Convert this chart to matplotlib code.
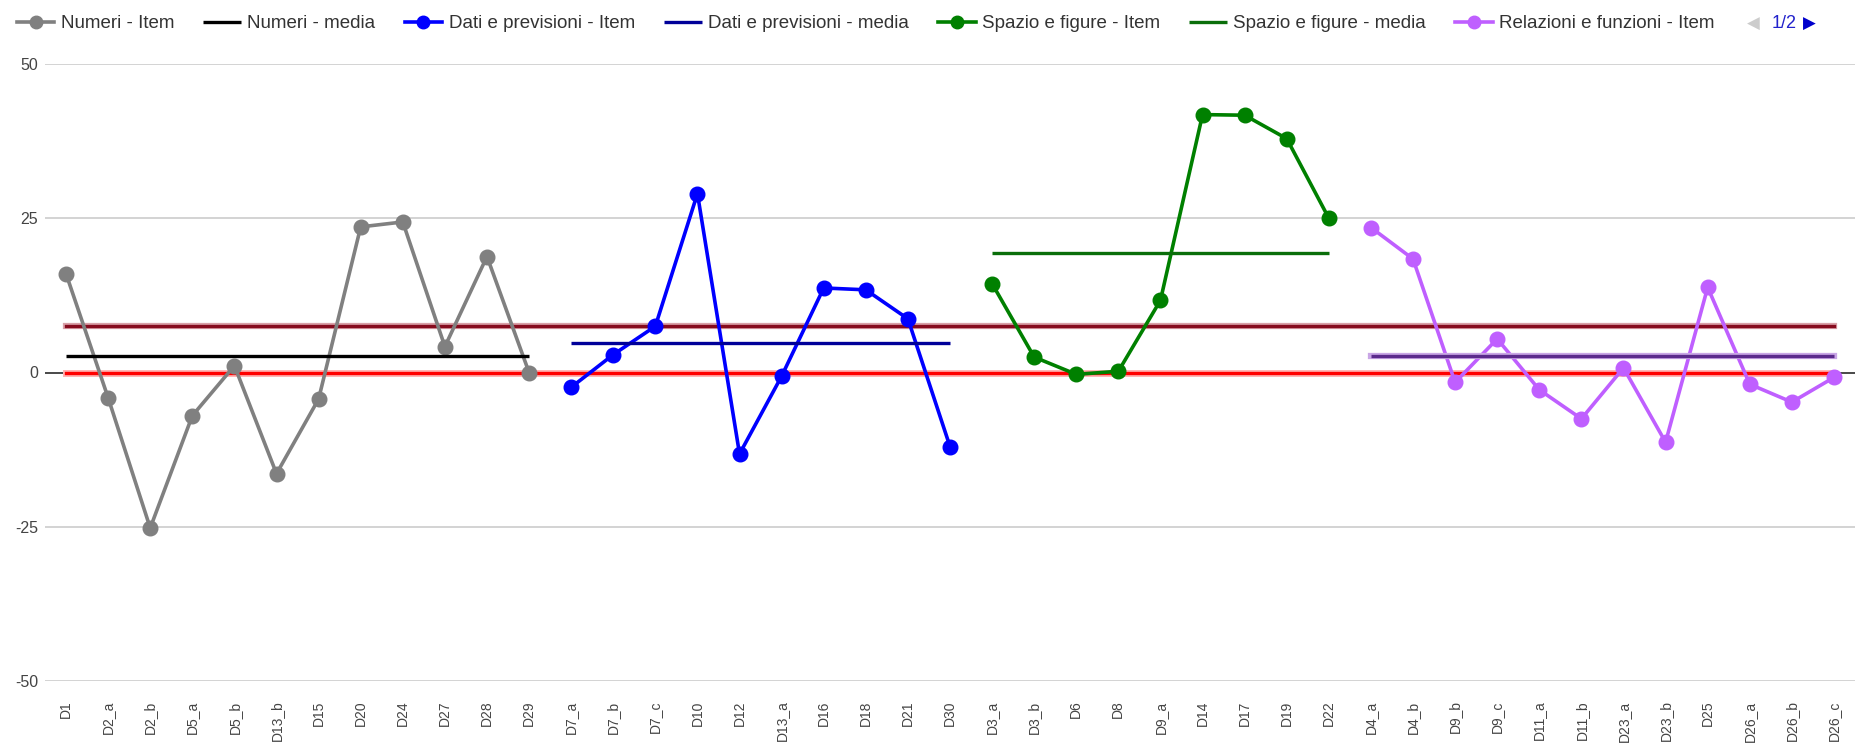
import matplotlib.pyplot as plt

plt.rcParams['font.family'] = ['Liberation Sans', 'DejaVu Sans']
plt.rcParams['axes.unicode_minus'] = False

# item labels per group
numeri_items = ['D1', 'D2_a', 'D2_b', 'D5_a', 'D5_b', 'D13_b', 'D15', 'D20', 'D24', 'D27', 'D28', 'D29']
dati_items = ['D7_a', 'D7_b', 'D7_c', 'D10', 'D12', 'D13_a', 'D16', 'D18', 'D21', 'D30']
spazio_items = ['D3_a', 'D3_b', 'D6', 'D8', 'D9_a', 'D14', 'D17', 'D19', 'D22']
relazioni_items = ['D4_a', 'D4_b', 'D9_b', 'D9_c', 'D11_a', 'D11_b', 'D23_a', 'D23_b', 'D25', 'D26_a', 'D26_b', 'D26_c']

# values
numeri_vals = [16.0, -4.1, -25.2, -7.0, 1.1, -16.4, -4.3, 23.6, 24.4, 4.2, 18.8, 0.0]
dati_vals = [-2.4, 2.9, 7.5, 29.0, -13.2, -0.6, 13.7, 13.4, 8.7, -12.0]
spazio_vals = [14.4, 2.5, -0.3, 0.2, 11.7, 41.8, 41.7, 37.9, 25.0]
relazioni_vals = [23.5, 18.4, -1.6, 5.45, -2.8, -7.5, 0.75, -11.3, 13.8, -1.9, -4.8, -0.8]

# group means and overall lines
numeri_media = 2.65
dati_media = 4.75
spazio_media = 19.4
relazioni_media = 2.7
totale_media = 7.5
zero_line = 0.0

all_items = numeri_items + dati_items + spazio_items + relazioni_items
pos = {name: i for i, name in enumerate(all_items)}


def xs(items):
    return [pos[n] for n in items]


def span(items):
    return [pos[items[0]], pos[items[-1]]]


fig = plt.figure(figsize=(18.56, 7.47), dpi=100)
ax = fig.add_axes([45 / 1856, 66 / 747, 1 - 46 / 1856, 617 / 747])

item_kw = dict(lw=2.6, marker='o', ms=10.5, zorder=3)
media_kw = dict(lw=2.4, zorder=4, solid_capstyle='butt')

# overall lines across all items
ax.plot(span(all_items), [zero_line] * 2, color='#ffb3b3', lw=5, zorder=2)
ax.plot(span(all_items), [zero_line] * 2, color='#ff0000', lw=2.4, zorder=2)
ax.plot(span(all_items), [totale_media] * 2, color='#d9a0a8', lw=4.5, zorder=2)
ax.plot(span(all_items), [totale_media] * 2, color='#860b1e', lw=2.4, zorder=2)

ax.plot(xs(numeri_items), numeri_vals, color='#808080', label='Numeri - Item', **item_kw)
ax.plot(span(numeri_items), [numeri_media] * 2, color='#000000',
        label='Numeri - media', **media_kw)
ax.plot(xs(dati_items), dati_vals, color='#0000ff', label='Dati e previsioni - Item', **item_kw)
ax.plot(span(dati_items), [dati_media] * 2, color='#000099',
        label='Dati e previsioni - media', **media_kw)
ax.plot(xs(spazio_items), spazio_vals, color='#008000', label='Spazio e figure - Item', **item_kw)
ax.plot(span(spazio_items), [spazio_media] * 2, color='#0a6e0a',
        label='Spazio e figure - media', **media_kw)
ax.plot(xs(relazioni_items), relazioni_vals, color='#bf5fff', label='Relazioni e funzioni - Item', **item_kw)
ax.plot(span(relazioni_items), [relazioni_media] * 2, color='#c9a6e6', lw=4.5, zorder=4)
ax.plot(span(relazioni_items), [relazioni_media] * 2, color='#5b2a8c', **media_kw)

ax.axhline(0, color='#333333', lw=1.2, zorder=1)

ax.set_xlim(-0.5, len(all_items) - 0.5)
ax.set_ylim(-50, 50)
ax.set_xticks(range(len(all_items)))
ax.set_xticklabels(all_items, rotation=90, va='top', ha='center')
ax.set_yticks([-50, -25, 0, 25, 50])
ax.grid(axis='y', color='#cccccc', lw=1.2)
ax.set_axisbelow(True)
for s in ax.spines.values():
    s.set_visible(False)
ax.tick_params(axis='y', length=0, pad=5, labelsize=11.5, labelcolor='#444444')
ax.tick_params(axis='x', length=0, pad=14, labelsize=10, labelcolor='#444444')

handles, labels = ax.get_legend_handles_labels()
leg = fig.legend(handles, labels, loc='center left', bbox_to_anchor=(0.005, 0.968), ncol=7,
                 frameon=False, fontsize=13.5, handlelength=2.0, handletextpad=0.35,
                 columnspacing=1.55, borderaxespad=0, labelcolor='#333333')
for h in leg.legend_handles:
    if h.get_marker() == 'o':
        h.set_markersize(9)

fig.text(0.9415, 0.968, '◀', color='#cccccc', fontsize=12, va='center', ha='left',
         family=['DejaVu Sans'])
fig.text(0.9545, 0.968, '1/2', color='#2222cc', fontsize=13, va='center', ha='left')
fig.text(0.9715, 0.968, '▶', color='#0000cc', fontsize=12, va='center', ha='left',
         family=['DejaVu Sans'])

fig.savefig('out.png', dpi=100)
